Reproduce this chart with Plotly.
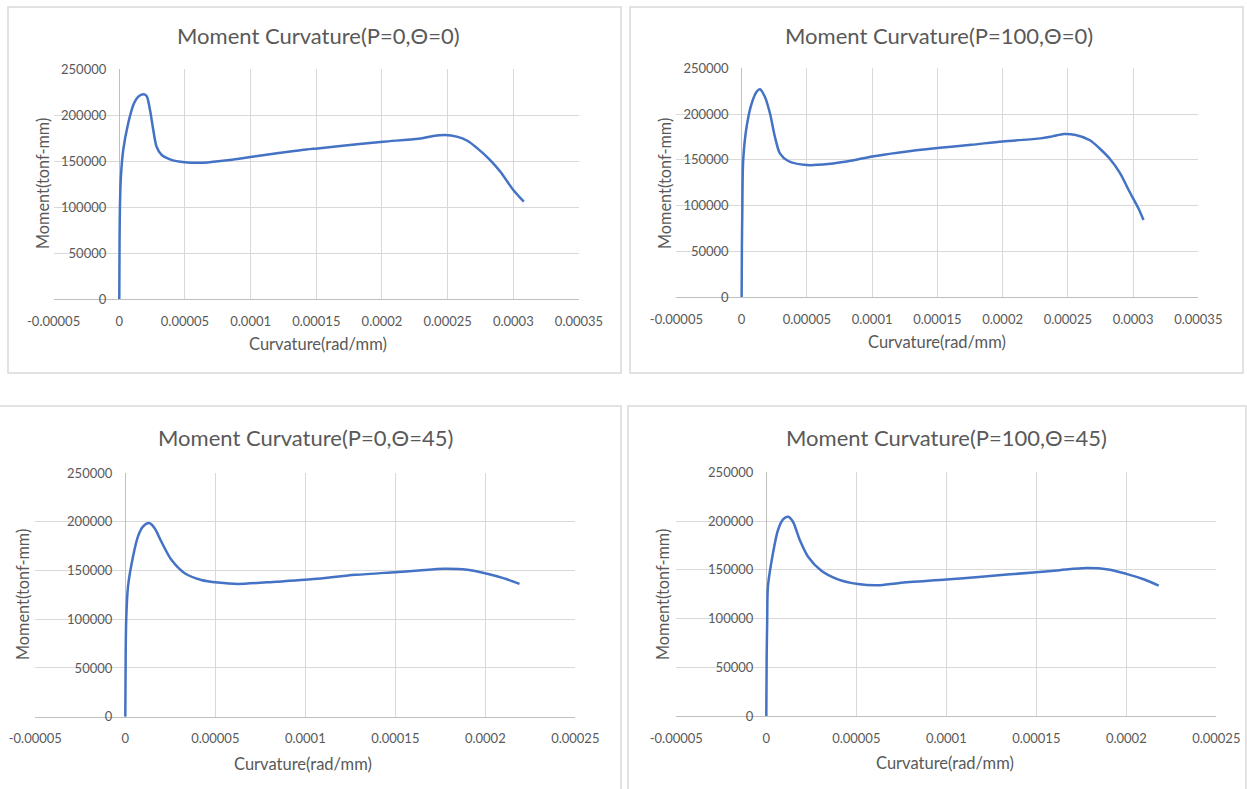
import plotly.graph_objects as go

# ---------------- data ----------------
titles = ["Moment Curvature(P=0,Θ=0)", "Moment Curvature(P=100,Θ=0)",
          "Moment Curvature(P=0,Θ=45)", "Moment Curvature(P=100,Θ=45)"]
x_title = "Curvature(rad/mm)"
y_title = "Moment(tonf-mm)"

c1_curv = [0, 0.0000002, 0.0000005, 0.0000012, 0.000003, 0.0000068, 0.0000107, 0.0000145,
           0.0000183, 0.0000208, 0.0000234, 0.0000259, 0.0000284, 0.0000323, 0.0000386,
           0.00005, 0.000064, 0.000084, 0.000101, 0.00012, 0.000139, 0.000151, 0.000181,
           0.000201, 0.000228, 0.000239, 0.000248, 0.000257, 0.000265, 0.000272, 0.000282,
           0.00029, 0.0003, 0.000308]
c1_mom = [0, 60000, 100000, 132000, 162000, 191000, 210900, 219900, 222500, 220700, 205400,
          183700, 165500, 156500, 151800, 148600, 148200, 151100, 154600, 158300, 161900,
          163700, 168100, 171000, 174300, 177200, 178300, 176500, 172000, 164500, 151500,
          138500, 118500, 105800]

c2_curv = [0, 0.0000002, 0.0000005, 0.0000012, 0.0000038, 0.0000077, 0.0000115, 0.000014,
           0.0000178, 0.0000217, 0.0000255, 0.0000293, 0.0000357, 0.0000498, 0.0000663,
           0.0000868, 0.0001, 0.000121, 0.00015, 0.000176, 0.0002, 0.000229, 0.000238,
           0.000247, 0.000256, 0.000267, 0.000274, 0.000282, 0.00029, 0.000297, 0.000304,
           0.000308]
c2_mom = [0, 55000, 92000, 149900, 186200, 211800, 224500, 227100, 219000, 200900, 175300,
          157200, 148800, 144400, 145500, 149900, 153700, 158100, 162900, 166500, 170200,
          173500, 175700, 178300, 177200, 171500, 163000, 151500, 135500, 116000, 97500, 84400]

c3_curv = [0, 0.0000002, 0.0000005, 0.0000015, 0.0000043, 0.000007, 0.0000098, 0.0000132,
           0.0000163, 0.00002, 0.0000256, 0.000033, 0.0000422, 0.0000515, 0.0000626,
           0.000084, 0.0000996, 0.000128, 0.00015, 0.000163, 0.000177, 0.00019, 0.000201,
           0.00021, 0.000219]
c3_mom = [0, 60000, 99300, 133500, 164300, 184800, 195100, 198600, 193400, 179700, 160900,
          147200, 140300, 137600, 136200, 138500, 140400, 145500, 148300, 150000, 151700,
          150700, 146600, 142100, 136300]

c4_curv = [0, 0.0000002, 0.0000005, 0.0000009, 0.0000037, 0.0000065, 0.0000093, 0.0000121,
           0.0000148, 0.0000186, 0.0000232, 0.0000306, 0.0000398, 0.0000509, 0.000062,
           0.000074, 0.0001, 0.000118, 0.00015, 0.000163, 0.000178, 0.00019, 0.0002,
           0.00021, 0.000218]
c4_mom = [0, 60000, 98500, 132600, 166900, 190800, 201700, 204400, 199300, 180500, 163400,
          149000, 140200, 135400, 134100, 136500, 140000, 142700, 147500, 149600, 151700,
          150300, 145800, 140000, 133800]

x_ticks_top = [-0.00005, 0, 0.00005, 0.0001, 0.00015, 0.0002, 0.00025, 0.0003, 0.00035]
x_labels_top = ["-0.00005", "0", "0.00005", "0.0001", "0.00015", "0.0002", "0.00025",
                "0.0003", "0.00035"]
x_ticks_bot = [-0.00005, 0, 0.00005, 0.0001, 0.00015, 0.0002, 0.00025]
x_labels_bot = ["-0.00005", "0", "0.00005", "0.0001", "0.00015", "0.0002", "0.00025"]
y_ticks = [0, 50000, 100000, 150000, 200000, 250000]
y_labels = ["0", "50000", "100000", "150000", "200000", "250000"]

# ---------------- layout geometry (pixels) ----------------
W, H = 1247, 789
FONT = "Lato, 'Open Sans', sans-serif"
TXT = "#595959"
GRID = "#d9d9d9"
AXIS = "#bfbfbf"
LINE = "#4472C4"

panels = [
    dict(x=c1_curv, y=c1_mom, xt=x_ticks_top, xl=x_labels_top, px=(53.6, 579), py=(69, 299),
         title=(318, 36), xtitle=(318, 344), ytitle=(42, 184), box=(8, 7, 621, 373)),
    dict(x=c2_curv, y=c2_mom, xt=x_ticks_top, xl=x_labels_top, px=(676.4, 1198.3), py=(68.3, 297.3),
         title=(939, 36), xtitle=(937, 342), ytitle=(664, 184), box=(630, 7, 1243, 373)),
    dict(x=c3_curv, y=c3_mom, xt=x_ticks_bot, xl=x_labels_bot, px=(35.3, 575.3), py=(473, 716.7),
         title=(305, 437), xtitle=(303, 764), ytitle=(22, 595), box=(-5, 406, 621, 800)),
    dict(x=c4_curv, y=c4_mom, xt=x_ticks_bot, xl=x_labels_bot, px=(676.3, 1216.3), py=(472.3, 716),
         title=(947, 437), xtitle=(945, 763), ytitle=(662, 595), box=(628, 406, 1246, 800)),
]

fig = go.Figure()
annotations = []
shapes = []
layout = {}
for i, p in enumerate(panels, start=1):
    xname = "x" if i == 1 else f"x{i}"
    yname = "y" if i == 1 else f"y{i}"
    fig.add_trace(go.Scatter(x=p["x"], y=p["y"], mode="lines", xaxis=xname, yaxis=yname,
                             line=dict(color=LINE, width=2.5, shape="spline", smoothing=0.8),
                             showlegend=False, hoverinfo="x+y"))
    x0, x1 = p["xt"][0], p["xt"][-1]
    dx0, dx1 = p["px"][0] / W, p["px"][1] / W
    dy0, dy1 = 1 - p["py"][1] / H, 1 - p["py"][0] / H
    ypos = dx0 + (0 - x0) / (x1 - x0) * (dx1 - dx0)
    layout[f"xaxis{'' if i == 1 else i}"] = dict(
        domain=[dx0, dx1], anchor=yname, range=[x0, x1], tickvals=p["xt"], ticktext=p["xl"],
        showgrid=True, gridcolor=GRID, gridwidth=1, showline=True, linecolor=AXIS, linewidth=1,
        zeroline=True, zerolinecolor=AXIS, zerolinewidth=1, ticks="", ticklabelstandoff=10,
        automargin=False,
        tickfont=dict(family=FONT, size=13, color=TXT), fixedrange=True)
    layout[f"yaxis{'' if i == 1 else i}"] = dict(
        domain=[dy0, dy1], anchor="free", position=ypos, range=[0, 250000],
        tickvals=y_ticks, ticktext=y_labels, showgrid=True, gridcolor=GRID, gridwidth=1,
        zeroline=False, showline=False, ticks="", ticklabelstandoff=13, automargin=False,
        tickfont=dict(family=FONT, size=13, color=TXT), fixedrange=True)
    tx, ty = p["title"]
    annotations.append(dict(text=titles[i - 1], x=tx / W, y=1 - ty / H, xref="paper", yref="paper",
                            showarrow=False, xanchor="center", yanchor="middle",
                            font=dict(family=FONT, size=22, color=TXT)))
    ax_, ay_ = p["xtitle"]
    annotations.append(dict(text=x_title, x=ax_ / W, y=1 - ay_ / H, xref="paper", yref="paper",
                            showarrow=False, xanchor="center", yanchor="middle",
                            font=dict(family=FONT, size=16.5, color=TXT)))
    bx_, by_ = p["ytitle"]
    annotations.append(dict(text=y_title, x=bx_ / W, y=1 - by_ / H, xref="paper", yref="paper",
                            showarrow=False, xanchor="center", yanchor="middle", textangle=-90,
                            font=dict(family=FONT, size=16.3, color=TXT)))
    b = p["box"]
    shapes.append(dict(type="rect", xref="paper", yref="paper", x0=b[0] / W, x1=b[2] / W,
                       y0=1 - b[3] / H, y1=1 - b[1] / H, line=dict(color=GRID, width=1.5),
                       layer="below"))

fig.update_layout(width=W, height=H, margin=dict(l=0, r=0, t=0, b=0, pad=0, autoexpand=False),
                  paper_bgcolor="white", plot_bgcolor="white", template="none",
                  annotations=annotations, shapes=shapes, **layout)
fig.write_html("out.html", config={"displayModeBar": False},
               post_script="document.body.style.margin='0px';document.body.style.overflow='hidden';")
